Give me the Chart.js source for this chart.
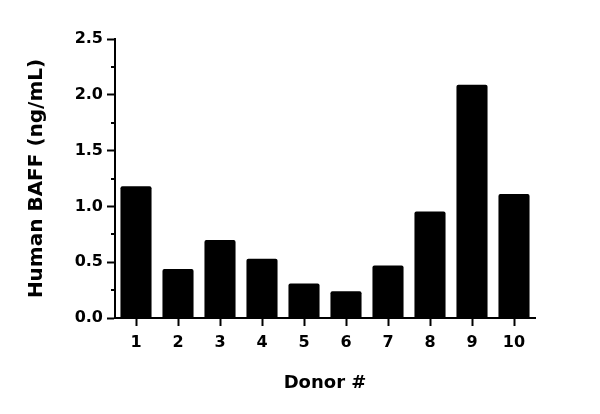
<!DOCTYPE html>
<html>
<head>
<meta charset="utf-8">
<script src="https://cdn.jsdelivr.net/npm/chart.js@4"></script>
<style>
  html, body { margin: 0; padding: 0; background: #fff; }
  canvas { display: block; }
</style>
</head>
<body>
<canvas id="chart" width="600" height="414"></canvas>
<script>
// donors and measured values
const donors = ["1", "2", "3", "4", "5", "6", "7", "8", "9", "10"];
const baffValues = [1.18, 0.44, 0.70, 0.53, 0.31, 0.24, 0.47, 0.955, 2.09, 1.11];
const yTickValues = [0.0, 0.5, 1.0, 1.5, 2.0, 2.5];

const font = "'DejaVu Sans', sans-serif";

// short minor ticks between the labelled ones
const minorTicks = {
  id: "minorTicks",
  afterDraw(chart) {
    const y = chart.scales.y;
    const c = chart.ctx;
    c.save();
    c.strokeStyle = "#000";
    c.lineWidth = 2;
    for (let v = 0.25; v < 2.5; v += 0.5) {
      const py = Math.round(y.getPixelForValue(v));
      c.beginPath();
      c.moveTo(y.right - 4, py);
      c.lineTo(y.right, py);
      c.stroke();
    }
    c.restore();
  }
};

const ctx = document.getElementById("chart").getContext("2d");
new Chart(ctx, {
  type: "bar",
  data: {
    labels: donors,
    datasets: [{
      data: baffValues,
      backgroundColor: "#000",
      borderRadius: 2,
      borderSkipped: "bottom",
      barPercentage: 0.74,
      categoryPercentage: 1.0
    }]
  },
  options: {
    responsive: false,
    animation: false,
    layout: { padding: { left: 0, top: 39, right: 65, bottom: 0 } },
    plugins: { legend: { display: false }, tooltip: { enabled: false } },
    scales: {
      x: {
        offset: true,
        afterFit(scale) { scale.height = 96; },
        border: { display: true, color: "#000", width: 2 },
        grid: { display: true, offset: false, drawOnChartArea: false, drawTicks: true, tickLength: 8, tickColor: "#000", tickWidth: 2 },
        ticks: { color: "#000", padding: 7, font: { family: font, size: 16, weight: "bold" } },
        title: {
          display: true,
          text: "Donor #",
          color: "#000",
          padding: { top: 0, bottom: 20 },
          font: { family: font, size: 18, weight: "bold" }
        }
      },
      y: {
        min: 0,
        max: 2.5,
        afterFit(scale) { scale.width = 115; },
        afterBuildTicks(scale) {
          scale.ticks = yTickValues.map(v => ({ value: v }));
        },
        border: { display: true, color: "#000", width: 2 },
        grid: { display: true, drawOnChartArea: false, drawTicks: true, tickLength: 8, tickColor: "#000", tickWidth: 2 },
        ticks: {
          color: "#000",
          padding: 4,
          font: { family: font, size: 16, weight: "bold" },
          callback: v => Number(v).toFixed(1)
        },
        title: {
          display: true,
          text: "Human BAFF (ng/mL)",
          color: "#000",
          padding: { top: 25, bottom: 0 },
          font: { family: font, size: 20, weight: "bold" }
        }
      }
    }
  },
  plugins: [minorTicks]
});
</script>
</body>
</html>
